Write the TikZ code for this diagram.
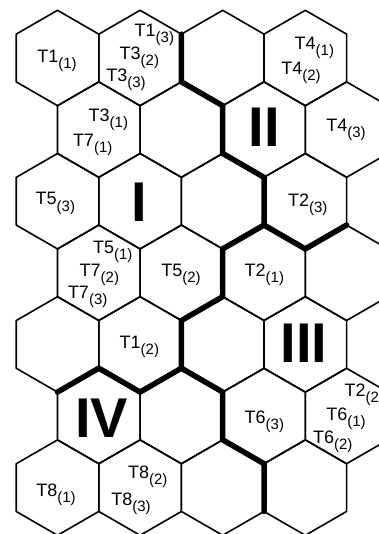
\documentclass[tikz,border=0pt]{standalone}
\usepackage{fontspec}
\setmainfont{Liberation Sans}
\newcommand{\hexlab}[2]{#1\raisebox{-6pt}{\fontsize{15pt}{16pt}\selectfont(#2)}}
\begin{document}
\begin{tikzpicture}[x=1pt,y=-1pt,
  hexline/.style={line width=1.6pt, line join=round},
  bound/.style={line width=5.5pt, line join=miter, line cap=round},
  lab/.style={anchor=base west, inner sep=0pt, font=\fontsize{18pt}{19pt}\selectfont},
  roman/.style={inner sep=0pt, font=\fontsize{56pt}{56pt}\selectfont\bfseries}]
\useasboundingbox (0,0) rectangle (379,534);
\fill[white] (0,0) rectangle (379,534);
\begin{scope}
\clip (0,0) rectangle (379,534);
\foreach \r in {0,...,6} {
  \pgfmathsetmacro{\cy}{58+71.6*\r}
  \pgfmathsetmacro{\off}{mod(\r,2)==0 ? 57.5 : 98.8}
  \foreach \c in {0,...,3} {
    \pgfmathsetmacro{\cx}{\off+82.6*\c}
    \draw[hexline, shift={(\cx,\cy)}] (0,-47.7) -- (41.3,-23.85) -- (41.3,23.85) -- (0,47.7) -- (-41.3,23.85) -- (-41.3,-23.85) -- cycle;
  }
}
% region boundaries
\draw[bound] (181.4,34.15) -- (181.4,81.85) -- (222.7,105.7) -- (222.7,153.45) -- (264,177.3) -- (264,225.05) -- (222.7,248.9) -- (222.7,296.65) -- (181.4,320.5) -- (181.4,368.2) -- (222.7,392.05) -- (222.7,439.85) -- (264,463.7) -- (264,511.4);
\draw[bound] (264,225.05) -- (305.3,248.9) -- (346.6,225.05);
\draw[bound] (181.4,368.2) -- (140.1,392.05) -- (98.8,368.2) -- (57.5,392.05);
\end{scope}
% labels
\node[lab] (t11) at (37.2,62.7) {\hexlab{T1}{1}};
\node[lab] (t13) at (134.5,36.7) {\hexlab{T1}{3}};
\node[lab] (t32) at (119.5,60) {\hexlab{T3}{2}};
\node[lab] (t33) at (106.2,81.7) {\hexlab{T3}{3}};
\node[lab] (t41) at (294.5,50) {\hexlab{T4}{1}};
\node[lab] (t42) at (281.2,75) {\hexlab{T4}{2}};
\node[lab] (t31) at (88.5,121.7) {\hexlab{T3}{1}};
\node[lab] (t71) at (72.8,146.7) {\hexlab{T7}{1}};
\node[lab] (t43) at (326.2,131.7) {\hexlab{T4}{3}};
\node[lab] (t53) at (35.5,205) {\hexlab{T5}{3}};
\node[lab] (t23) at (287.8,206.7) {\hexlab{T2}{3}};
\node[lab] (t51) at (92.8,253.3) {\hexlab{T5}{1}};
\node[lab] (t72) at (79.5,276.7) {\hexlab{T7}{2}};
\node[lab] (t73) at (67.8,298.3) {\hexlab{T7}{3}};
\node[lab] (t52) at (161.2,276.7) {\hexlab{T5}{2}};
\node[lab] (t21) at (244.5,276.7) {\hexlab{T2}{1}};
\node[lab] (t12) at (119.5,348) {\hexlab{T1}{2}};
\node[lab] (t63) at (244.5,423.3) {\hexlab{T6}{3}};
\node[lab] (t22) at (344.5,396.7) {\hexlab{T2}{2}};
\node[lab] (t61) at (326.2,420) {\hexlab{T6}{1}};
\node[lab] (t62) at (312.8,443.3) {\hexlab{T6}{2}};
\node[lab] (t81) at (36.2,496.7) {\hexlab{T8}{1}};
\node[lab] (t82) at (127.8,478.3) {\hexlab{T8}{2}};
\node[lab] (t83) at (111.2,505) {\hexlab{T8}{3}};
% region numerals
\node[roman] (rI) at (139.5,202) {I};
\node[roman] (rII) at (264.5,127.5) {II};
\node[roman] (rIII) at (304,343.7) {III};
\node[roman] (rIV) at (101.5,418.5) {IV};
\end{tikzpicture}
\end{document}
